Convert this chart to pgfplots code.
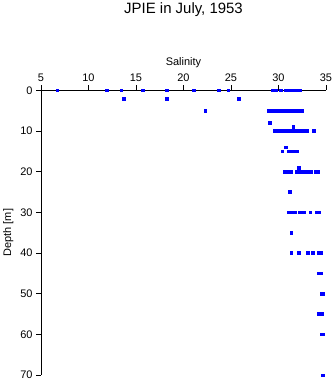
\documentclass[border=0pt]{standalone}
\usepackage{fontspec}
\setmainfont{Liberation Sans}
\usepackage{pgfplots}
\pgfplotsset{compat=1.18}
\begin{document}
\begin{tikzpicture}
\useasboundingbox (0,0) rectangle (335bp,384bp);
\begin{axis}[
  at={(41bp,9bp)}, anchor=south west,
  scale only axis, width=285bp, height=284.7bp,
  xmin=5, xmax=35, ymin=0, ymax=70, y dir=reverse,
  axis x line*=top, axis y line*=left,
  xtick={5,10,...,35}, ytick={0,10,...,70},
  tick align=outside, major tick length=5bp,
  tick style={black, line width=0.9bp},
  axis line style={black, line width=0.9bp},
  /pgf/number format/assume math mode=true,
  tick label style={font=\fontsize{11}{13}\selectfont},
  label style={font=\fontsize{11}{13}\selectfont},
  xlabel style={at={(axis description cs:0.5,1)}, anchor=base, yshift=25bp},
  title style={font=\fontsize{15}{18}\selectfont, at={(axis description cs:0.5,1)}, anchor=base, yshift=70.8bp},
  xlabel={Salinity}, ylabel={Depth [m]},
  title={JPIE in July, 1953},
  clip=false,
]
\addplot[only marks, mark=square*, mark size=1.3bp, color=blue, mark options={draw=blue, fill=blue}] coordinates {
(6.7,0) (11.9,0) (13.45,0) (15.7,0) (18.2,0) (21.1,0) (23.7,0) (24.7,0)
(29.4,0) (29.7,0) (30.2,0) (30.7,0) (31.0,0) (31.3,0) (31.6,0) (31.9,0) (32.2,0)
(13.7,2) (18.2,2) (25.8,2)
(22.3,5) (28.95,5) (29.4,5) (29.8,5) (30.2,5) (30.5,5) (30.8,5) (31.1,5) (31.4,5) (31.7,5) (32.0,5) (32.3,5) (32.5,5)
(29.1,8) (31.55,9)
(29.6,10) (30.0,10) (30.3,10) (30.6,10) (30.9,10) (31.2,10) (31.5,10) (31.8,10) (32.1,10) (32.4,10) (32.7,10) (33.0,10) (33.7,10)
(30.75,14)
(30.4,15) (31.05,15) (31.3,15) (31.6,15) (31.9,15)
(32.1,19)
(30.6,20) (30.9,20) (31.1,20) (31.3,20) (31.9,20) (32.2,20) (32.5,20) (32.8,20) (33.1,20) (33.4,20) (33.9,20) (34.1,20)
(31.2,25)
(31.1,30) (31.4,30) (31.7,30) (32.2,30) (32.45,30) (32.7,30) (33.35,30) (34.0,30) (34.3,30)
(31.35,35)
(31.35,40) (32.15,40) (33.1,40) (33.6,40) (34.2,40) (34.5,40)
(34.2,45) (34.5,45)
(34.5,50) (34.7,50)
(34.2,55) (34.6,55)
(34.5,60) (34.7,60)
(34.63,70)
};
\end{axis}
\end{tikzpicture}
\end{document}
